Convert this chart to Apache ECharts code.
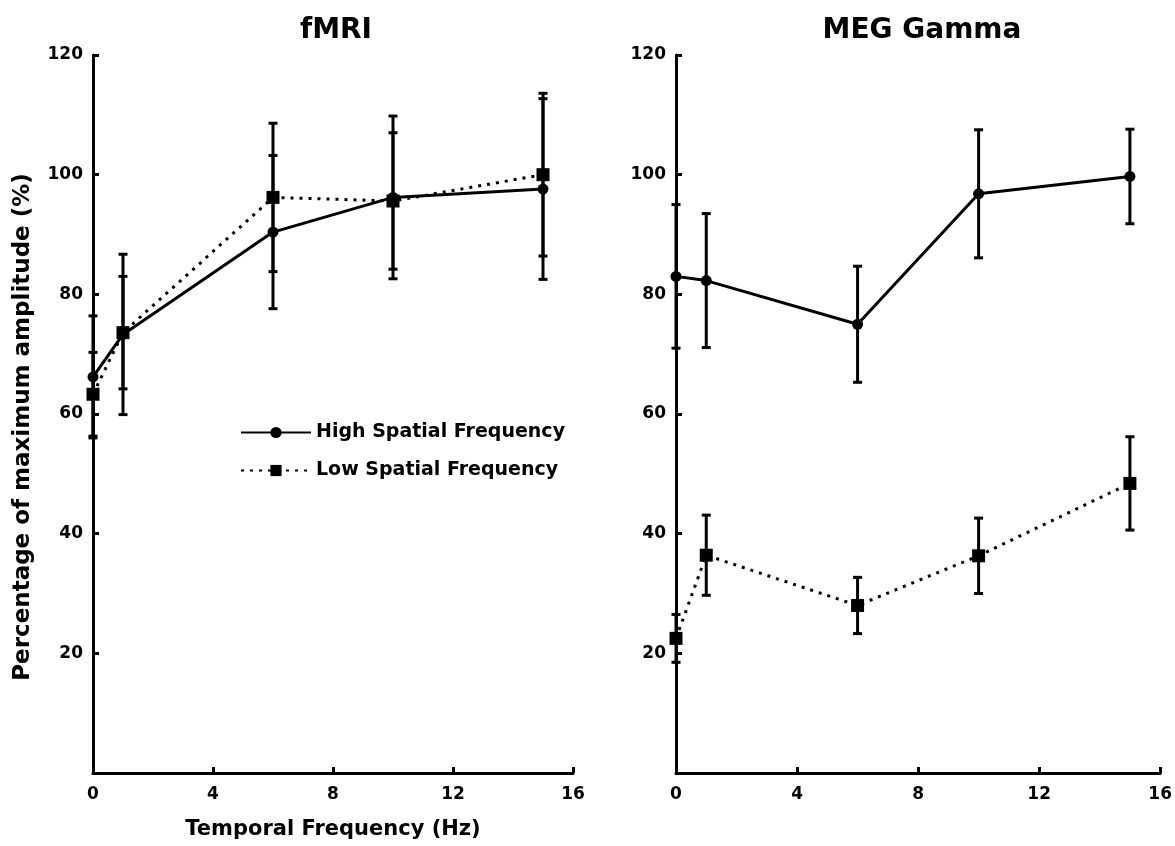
<!DOCTYPE html>
<html>
<head>
<meta charset="utf-8">
<script src="https://cdn.jsdelivr.net/npm/echarts@6/dist/echarts.min.js"></script>
<style>
  html, body { margin: 0; padding: 0; background: #fff; }
  #chart { width: 1175px; height: 846px; }
</style>
</head>
<body>
<div id="chart"></div>
<script>
// temporal frequencies (Hz)
const xVals = [0, 1, 6, 10, 15];

// fMRI panel
const fmriHigh = [66.2, 73.3, 90.4, 96.2, 97.6];
const fmriHighErr = [10.2, 13.4, 12.8, 13.6, 15.1];
const fmriLow = [63.3, 73.6, 96.2, 95.6, 100.0];
const fmriLowErr = [7.0, 9.4, 12.4, 11.4, 13.6];

// MEG gamma panel
const megHigh = [83.0, 82.3, 75.0, 96.8, 99.7];
const megHighErr = [12.0, 11.2, 9.7, 10.7, 7.9];
const megLow = [22.5, 36.4, 28.0, 36.3, 48.4];
const megLowErr = [4.0, 6.7, 4.7, 6.3, 7.8];

const xTicks = [0, 4, 8, 12, 16];
const yTicks = [20, 40, 60, 80, 100, 120];

const FONT = '"DejaVu Sans", sans-serif';
const HIGH = 'High Spatial Frequency';
const LOW = 'Low Spatial Frequency';

const chart = echarts.init(document.getElementById('chart'));

function pairs(ys) {
  return xVals.map((x, i) => [x, ys[i]]);
}

function errData(ys, errs) {
  return xVals.map((x, i) => [x, ys[i] - errs[i], ys[i] + errs[i]]);
}

// vertical error bar with caps
function renderErr(params, api) {
  const top = api.coord([api.value(0), api.value(2)]);
  const bot = api.coord([api.value(0), api.value(1)]);
  const cap = 4.5;
  const style = { stroke: '#000', lineWidth: 3 };
  return {
    type: 'group',
    children: [
      { type: 'line', shape: { x1: top[0], y1: top[1], x2: bot[0], y2: bot[1] }, style },
      { type: 'line', shape: { x1: top[0] - cap, y1: top[1], x2: top[0] + cap, y2: top[1] }, style },
      { type: 'line', shape: { x1: bot[0] - cap, y1: bot[1], x2: bot[0] + cap, y2: bot[1] }, style }
    ]
  };
}

function xAxis(idx, withName) {
  return {
    type: 'value',
    gridIndex: idx,
    min: 0,
    max: 16,
    interval: 4,
    name: withName ? 'Temporal Frequency (Hz)' : '',
    nameLocation: 'middle',
    nameGap: 46,
    nameTextStyle: { color: '#000', fontFamily: FONT, fontWeight: 'bold', fontSize: 21 },
    axisLine: { lineStyle: { color: '#000', width: 3 } },
    axisTick: { inside: true, length: 6, lineStyle: { color: '#000', width: 3 } },
    axisLabel: {
      color: '#000', fontFamily: FONT, fontWeight: 'bold', fontSize: 17, margin: 13,
      formatter: v => xTicks.includes(v) ? String(v) : ''
    },
    splitLine: { show: false }
  };
}

function yAxis(idx, withName) {
  return {
    type: 'value',
    gridIndex: idx,
    min: 0,
    max: 120,
    interval: 20,
    name: withName ? 'Percentage of maximum amplitude (%)' : '',
    nameLocation: 'middle',
    nameGap: 58,
    nameTextStyle: {
      color: '#000', fontFamily: FONT, fontWeight: 'bold', fontSize: 23,
      padding: [0, 26, 0, 0]
    },
    axisLine: { show: true, lineStyle: { color: '#000', width: 3 } },
    axisTick: { inside: true, length: 6, lineStyle: { color: '#000', width: 3 } },
    axisLabel: {
      color: '#000', fontFamily: FONT, fontWeight: 'bold', fontSize: 17, margin: 10,
      formatter: v => yTicks.includes(v) ? String(v) : ''
    },
    splitLine: { show: false }
  };
}

function lineSeries(name, idx, ys, dotted) {
  return {
    name,
    type: 'line',
    xAxisIndex: idx,
    yAxisIndex: idx,
    data: pairs(ys),
    symbol: dotted ? 'rect' : 'circle',
    symbolSize: dotted ? 13 : 11,
    itemStyle: { color: '#000' },
    lineStyle: { color: '#000', width: 3, type: dotted ? [3, 6] : 'solid' },
    z: 3
  };
}

function errSeries(idx, ys, errs) {
  return {
    name: 'err',
    type: 'custom',
    xAxisIndex: idx,
    yAxisIndex: idx,
    data: errData(ys, errs),
    encode: { x: 0, y: [1, 2] },
    renderItem: renderErr,
    z: 2
  };
}

chart.setOption({
  backgroundColor: '#fff',
  animation: false,
  title: [
    { text: 'fMRI', left: 331, top: 12, textAlign: 'center',
      textStyle: { color: '#000', fontFamily: FONT, fontWeight: 'bold', fontSize: 28 } },
    { text: 'MEG Gamma', left: 917, top: 12, textAlign: 'center',
      textStyle: { color: '#000', fontFamily: FONT, fontWeight: 'bold', fontSize: 28 } }
  ],
  legend: {
    data: [HIGH, LOW],
    orient: 'vertical',
    left: 235,
    top: 418,
    itemWidth: 70,
    itemHeight: 14,
    itemGap: 19,
    textStyle: { color: '#000', fontFamily: FONT, fontWeight: 'bold', fontSize: 19 }
  },
  grid: [
    { left: 93, right: 602, top: 55, bottom: 73 },
    { left: 676, right: 14, top: 55, bottom: 73 }
  ],
  xAxis: [xAxis(0, true), xAxis(1, false)],
  yAxis: [yAxis(0, true), yAxis(1, false)],
  series: [
    errSeries(0, fmriHigh, fmriHighErr),
    errSeries(0, fmriLow, fmriLowErr),
    lineSeries(HIGH, 0, fmriHigh, false),
    lineSeries(LOW, 0, fmriLow, true),
    errSeries(1, megHigh, megHighErr),
    errSeries(1, megLow, megLowErr),
    lineSeries(HIGH, 1, megHigh, false),
    lineSeries(LOW, 1, megLow, true)
  ]
});
</script>
</body>
</html>
